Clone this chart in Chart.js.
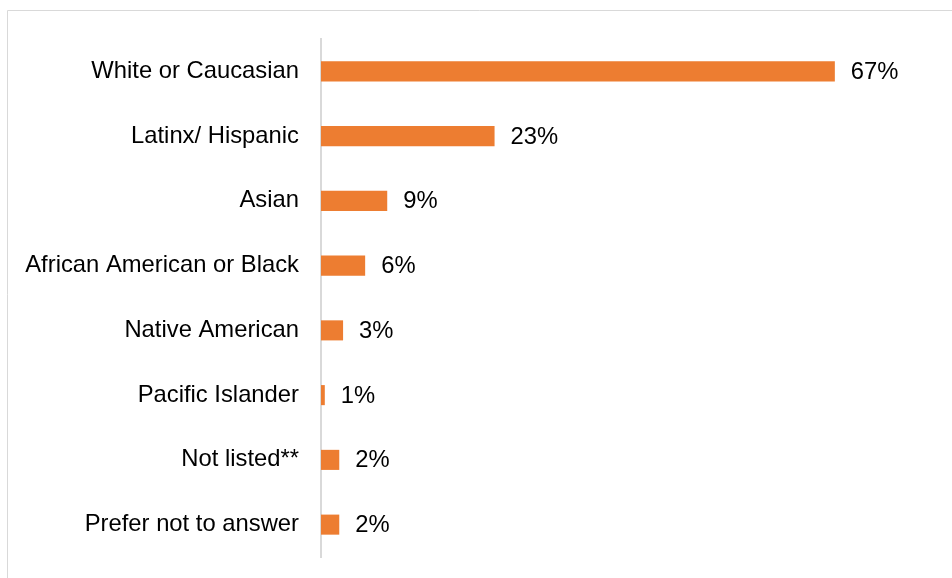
<!DOCTYPE html>
<html lang="en">
<head>
    <meta charset="UTF-8">
    <title>Race / ethnicity</title>
    <script src="https://cdn.jsdelivr.net/npm/chart.js"></script>
    <style>
        html, body {
            margin: 0;
            padding: 0;
            background: #fff;
        }
        #wrap {
            width: 952px;
            height: 578px;
            position: relative;
        }
    </style>
</head>
<body>
    <div id="wrap"><canvas id="myChart" width="952" height="578"></canvas></div>

    <script>
        const categories = ['White or Caucasian', 'Latinx/ Hispanic', 'Asian', 'African American or Black',
            'Native American', 'Pacific Islander', 'Not listed**', 'Prefer not to answer'];
        const values = [67.5, 22.8, 8.7, 5.8, 2.9, 0.5, 2.4, 2.4];
        const valueLabels = ['67%', '23%', '9%', '6%', '3%', '1%', '2%', '2%'];

        const FONT = '"Liberation Sans", Arial, sans-serif';

        // light frame at top/left
        const framePlugin = {
            id: 'framePlugin',
            beforeDraw(chart) {
                const {ctx} = chart;
                ctx.save();
                ctx.strokeStyle = '#d9d9d9';
                ctx.lineWidth = 1;
                ctx.beginPath();
                ctx.moveTo(7.5, 578);
                ctx.lineTo(7.5, 10.5);
                ctx.lineTo(952, 10.5);
                ctx.stroke();
                ctx.restore();
            }
        };

        // percent labels right of each bar
        const valueLabelPlugin = {
            id: 'valueLabelPlugin',
            afterDatasetsDraw(chart) {
                const {ctx} = chart;
                const meta = chart.getDatasetMeta(0);
                ctx.save();
                ctx.font = '23.8px ' + FONT;
                ctx.fillStyle = '#000';
                ctx.textAlign = 'left';
                ctx.textBaseline = 'middle';
                meta.data.forEach((bar, i) => {
                    ctx.fillText(valueLabels[i], bar.x + 16, bar.y + 1);
                });
                ctx.restore();
            }
        };

        const config = {
            type: 'bar',
            data: {
                labels: categories,
                datasets: [{
                    data: values,
                    backgroundColor: '#ED7D31',
                    barPercentage: 0.31,
                    categoryPercentage: 1
                }]
            },
            options: {
                indexAxis: 'y',
                responsive: false,
                animation: false,
                layout: {
                    padding: { top: 39, bottom: 21, right: 22, left: 0 }
                },
                plugins: {
                    legend: { display: false },
                    tooltip: { enabled: false }
                },
                scales: {
                    x: {
                        display: false,
                        min: 0,
                        max: 80
                    },
                    y: {
                        offset: true,
                        grid: { display: false, drawTicks: false },
                        border: { display: true, color: '#d9d9d9', width: 2 },
                        ticks: {
                            padding: 22,
                            color: '#000',
                            font: { family: FONT, size: 23.8 }
                        },
                        afterFit(scale) {
                            scale.width = 321;
                            scale.paddingTop = 0;
                            scale.paddingBottom = 0;
                        }
                    }
                }
            },
            plugins: [framePlugin, valueLabelPlugin]
        };

        const ctx = document.getElementById('myChart').getContext('2d');
        new Chart(ctx, config);
    </script>
</body>
</html>
